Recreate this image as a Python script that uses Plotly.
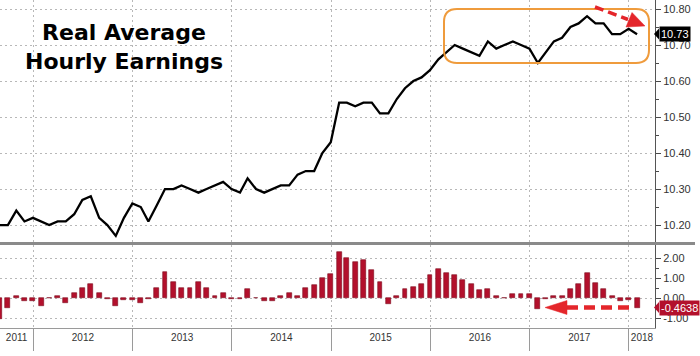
import pandas as pd
import plotly.graph_objects as go

# ---------------- data ----------------
months = pd.period_range("2011-08", "2018-01", freq="M")
dates = [p.to_timestamp(how="end").strftime("%Y-%m-%d") for p in months]

earnings = [
    10.20, 10.20, 10.24, 10.21, 10.22,
    10.21, 10.20, 10.21, 10.21, 10.23, 10.27, 10.28, 10.22, 10.20, 10.17, 10.22, 10.26,
    10.25, 10.21, 10.255, 10.30, 10.30, 10.31, 10.30, 10.29, 10.30, 10.31, 10.32, 10.30,
    10.29, 10.33, 10.30, 10.29, 10.30, 10.31, 10.31, 10.34, 10.35, 10.35, 10.40, 10.43,
    10.54, 10.54, 10.53, 10.54, 10.54, 10.51, 10.51, 10.55, 10.58, 10.60, 10.61, 10.63,
    10.66, 10.68, 10.70, 10.69, 10.68, 10.67, 10.71, 10.69, 10.70, 10.71, 10.70, 10.69,
    10.65, 10.68, 10.71, 10.72, 10.75, 10.76, 10.78, 10.76, 10.76, 10.73, 10.73, 10.745,
    10.73,
]

yoy_change = [
    -1.03, -0.47, 0.13, -0.13, -0.12,
    -0.37, 0.02, 0.13, -0.25, 0.25, 0.53, 0.72, 0.25, -0.05, -0.37, -0.08, -0.08,
    -0.25, -0.05, 0.53, 1.33, 0.83, 0.53, 0.53, 0.83, 0.53, 0.13, 0.25, -0.05,
    -0.05, 0.45, 0.01, -0.13, -0.13, 0.13, 0.25, 0.13, 0.53, 0.67, 1.00, 1.22,
    2.33, 2.03, 1.80, 1.90, 1.40, 0.82, -0.27, 0.12, 0.48, 0.58, 0.72, 1.18,
    1.45, 1.28, 1.18, 0.90, 0.70, 0.42, 0.48, 0.12, 0.02, 0.19, 0.19, 0.19,
    -0.55, -0.06, 0.12, 0.12, 0.48, 0.70, 1.28, 0.78, 0.48, 0.12, -0.15, -0.07,
    -0.4638,
]

top_ticks = [10.20, 10.30, 10.40, 10.50, 10.60, 10.70, 10.80]
top_ticktext = ["10.20", "10.30", "10.40", "10.50", "10.60", "10.70", "10.80"]
bot_ticks = [-1.0, 0.0, 1.0, 2.0]
bot_ticktext = ["-1.00", "0.00", "1.00", "2.00"]
years = [2011, 2012, 2013, 2014, 2015, 2016, 2017, 2018]

last_earn_label = "10.73"
last_yoy_label = "-0.4638"

# ---------------- axis helpers ----------------
x_start = pd.Timestamp("2011-09-01")
x_end = pd.Timestamp("2018-04-07")
xr = [x_start.strftime("%Y-%m-%d"), x_end.strftime("%Y-%m-%d")]

jan1 = [pd.Timestamp(f"{y}-01-01") for y in years if pd.Timestamp(f"{y}-01-01") > x_start]
jan1_s = [d.strftime("%Y-%m-%d") for d in jan1]

label_pos = []
for y in years:
    a = max(pd.Timestamp(f"{y}-01-01"), x_start)
    b = min(pd.Timestamp(f"{y + 1}-01-01"), x_end)
    label_pos.append((a + (b - a) / 2).strftime("%Y-%m-%d %H:%M"))

quarters = [d.strftime("%Y-%m-%d") for d in pd.date_range(x_start, x_end, freq="QS")]

W, H = 700, 356
ML, MR, MT, MB = 0, 45, 0, 28
PW, PH = W - ML - MR, H - MT - MB


def px(x):
    return x / PW


def py(y):
    return 1 - y / PH


GRID = "#b8b8b8"
AXC = "#4a4a4a"
RED = "#e4262b"
BAR = "#b3102c"
ORANGE = "#ef9b3c"

fig = go.Figure()
fig.add_trace(go.Scatter(x=dates, y=earnings, xaxis="x", yaxis="y", mode="lines",
                         line=dict(color="black", width=2.3), hoverinfo="skip"))
fig.add_trace(go.Bar(x=dates, y=yoy_change, xaxis="x2", yaxis="y2",
                     marker=dict(color=BAR, line=dict(color="#7d0a1d", width=0.6)),
                     width=18 * 86400000, hoverinfo="skip"))

tickfont = dict(family="Liberation Sans, Arial, sans-serif", size=11, color="#333333")

fig.update_layout(
    width=W, height=H,
    margin=dict(l=ML, r=MR, t=MT, b=MB),
    paper_bgcolor="white", plot_bgcolor="white",
    showlegend=False, hovermode=False, bargap=0,
    xaxis=dict(domain=[0, 1], anchor="y", type="date", range=xr,
               tickmode="array", tickvals=jan1_s, showticklabels=False, ticks="",
               showgrid=True, gridcolor=GRID, griddash="2px,3px", gridwidth=1,
               zeroline=False, showline=False),
    yaxis=dict(domain=[0.259, 1], anchor="x", side="right", range=[10.15, 10.825],
               tickmode="array", tickvals=top_ticks, ticktext=top_ticktext,
               ticks="outside", ticklen=5, tickcolor=AXC, tickwidth=1,
               showgrid=True, gridcolor=GRID, griddash="2px,3px", gridwidth=1,
               zeroline=False, showline=True, linecolor="#555555", linewidth=1,
               tickfont=tickfont,
               minor=dict(tickmode="array",
                          tickvals=[10.15, 10.25, 10.35, 10.45, 10.55, 10.65, 10.75],
                          ticks="outside", ticklen=3, tickcolor=AXC, showgrid=False)),
    xaxis2=dict(domain=[0, 1], anchor="y2", type="date", range=xr,
                tickmode="array", tickvals=label_pos, ticktext=[str(y) for y in years],
                ticks="", showgrid=False, zeroline=False,
                showline=True, linecolor="#9a9a9a", linewidth=1,
                tickfont=dict(family="Liberation Sans, Arial, sans-serif", size=10, color="#333333"),
                minor=dict(tickmode="array", tickvals=jan1_s, ticks="outside", ticklen=22,
                           tickcolor="#9a9a9a", tickwidth=1,
                           showgrid=True, gridcolor=GRID, griddash="2px,3px", gridwidth=1)),
    xaxis3=dict(overlaying="x2", anchor="y2", side="bottom", type="date", range=xr,
                tickmode="array", tickvals=quarters, ticks="outside", ticklen=3,
                tickcolor="#9a9a9a", showticklabels=False, showgrid=False,
                showline=False, zeroline=False),
    yaxis2=dict(domain=[0, 0.253], anchor="x2", side="right", range=[-1.485, 2.665],
                tickmode="array", tickvals=bot_ticks, ticktext=bot_ticktext,
                ticks="outside", ticklen=5, tickcolor=AXC, tickwidth=1,
                showgrid=True, gridcolor=GRID, griddash="2px,3px", gridwidth=1,
                zeroline=False, showline=True, linecolor="#555555", linewidth=1,
                tickfont=tickfont,
                minor=dict(tickmode="array", tickvals=[-0.5, 0.5, 1.5],
                           ticks="outside", ticklen=3, tickcolor=AXC, showgrid=False)),
)

shapes = []
# panel separator
shapes.append(dict(type="line", xref="paper", yref="paper", x0=0, x1=px(695),
                   y0=py(243.5), y1=py(243.5), line=dict(color="#8a8a8a", width=3)))

# orange rounded rectangle
x0, x1, y0, y1, r = 444, 649, 9, 63, 13
P = lambda x, y: f"{px(x):.5f},{py(y):.5f}"
path = (f"M{P(x0 + r, y0)} L{P(x1 - r, y0)} Q{P(x1, y0)} {P(x1, y0 + r)} "
        f"L{P(x1, y1 - r)} Q{P(x1, y1)} {P(x1 - r, y1)} L{P(x0 + r, y1)} "
        f"Q{P(x0, y1)} {P(x0, y1 - r)} L{P(x0, y0 + r)} Q{P(x0, y0)} {P(x0 + r, y0)} Z")
shapes.append(dict(type="path", xref="paper", yref="paper", path=path,
                   line=dict(color=ORANGE, width=2)))

# top red dashed arrow
shapes.append(dict(type="line", xref="paper", yref="paper", x0=px(595), y0=py(7),
                   x1=px(628), y1=py(19.5), line=dict(color=RED, width=3.5, dash="9px,5px")))
shapes.append(dict(type="path", xref="paper", yref="paper",
                   path=f"M{P(645, 26)} L{P(626, 27)} L{P(632, 12.5)} Z",
                   fillcolor=RED, line=dict(color=RED, width=0.5)))

# bottom red dashed arrow
shapes.append(dict(type="line", xref="paper", yref="paper", x0=px(629), y0=py(307.5),
                   x1=px(566), y1=py(307.5), line=dict(color=RED, width=4.5, dash="11px,6px")))
shapes.append(dict(type="path", xref="paper", yref="paper",
                   path=f"M{P(545, 307.5)} L{P(567, 300.5)} L{P(567, 314.5)} Z",
                   fillcolor=RED, line=dict(color=RED, width=0.5)))

# notches for the last-value labels
shapes.append(dict(type="path", xref="paper", yref="paper",
                   path=f"M{P(654, 34)} L{P(659, 28.5)} L{P(659, 39.5)} Z",
                   fillcolor="black", line=dict(width=0)))
shapes.append(dict(type="path", xref="paper", yref="paper",
                   path=f"M{P(654, 307.5)} L{P(659, 302)} L{P(659, 313)} Z",
                   fillcolor=BAR, line=dict(width=0)))

fig.update_layout(shapes=shapes)

annotations = [
    dict(text="<b>Real Average<br>Hourly Earnings</b>", xref="paper", yref="paper",
         x=px(124), y=py(47), xanchor="center", yanchor="middle", showarrow=False,
         align="center",
         font=dict(family="DejaVu Sans, Verdana, sans-serif", size=22, color="black"),
         ),
    dict(text=last_earn_label, xref="paper", yref="y", x=1, y=earnings[-1],
         xanchor="left", yanchor="middle", xshift=4, showarrow=False,
         bgcolor="black", borderpad=1,
         font=dict(family="Liberation Sans, Arial, sans-serif", size=11, color="white")),
    dict(text=last_yoy_label, xref="paper", yref="y2", x=1, y=yoy_change[-1],
         xanchor="left", yanchor="middle", xshift=4, showarrow=False,
         bgcolor=BAR, borderpad=1,
         font=dict(family="Liberation Sans, Arial, sans-serif", size=11, color="white")),
]
fig.update_layout(annotations=annotations)

fig.write_html("out.html", config={"displayModeBar": False},
               post_script="document.body.style.margin='0';")
